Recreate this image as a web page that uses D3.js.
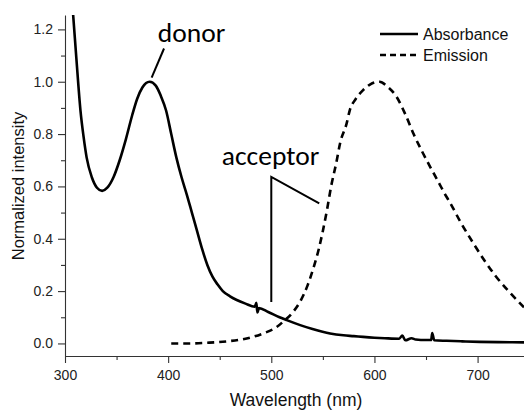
<!DOCTYPE html>
<html lang="en">
<head>
<meta charset="UTF-8">
<title>Absorbance / Emission</title>
<script src="https://d3js.org/d3.v7.min.js"></script>
<style>
  body { margin: 0; background: #fff; }
  svg { display: block; }
</style>
</head>
<body>
<script>
// absorbance spectrum (donor)
const absWl = [303, 306, 308, 311, 315, 318, 321, 326, 331, 336, 341, 347, 353, 359, 365, 370, 375, 382, 388, 393,
  398, 403, 408, 413, 418, 423, 428, 433, 438, 443, 448, 453, 460, 466, 475, 484, 485.5, 486.5, 488, 497, 508,
  515, 528, 540, 557, 570, 580, 589, 600, 610, 624, 627, 630, 636, 640, 650, 655, 656, 658, 670, 685, 702, 720, 745];
const absVal = [1.50, 1.35, 1.25, 1.09, 0.89, 0.79, 0.71, 0.635, 0.595, 0.583, 0.595, 0.635, 0.70, 0.78, 0.87, 0.935, 0.978, 1.0, 0.985, 0.945,
  0.89, 0.80, 0.71, 0.635, 0.57, 0.50, 0.43, 0.36, 0.30, 0.255, 0.225, 0.20, 0.18, 0.167, 0.152, 0.14, 0.155, 0.118, 0.135, 0.12, 0.10,
  0.089, 0.07, 0.055, 0.038, 0.031, 0.028, 0.025, 0.022, 0.02, 0.018, 0.03, 0.012, 0.02, 0.015, 0.013, 0.013, 0.04, 0.012, 0.01, 0.008, 0.006, 0.005, 0.004];

// emission spectrum (acceptor)
const emWl = [403, 420, 440, 457, 475, 492, 505, 512, 520, 528, 535, 541, 546, 550, 554, 558, 563, 567, 573, 576,
  582, 589, 596, 605, 613, 621, 630, 638, 646, 654, 663, 668, 673, 684, 696, 707, 718, 730, 745];
const emVal = [0.0, 0.0, 0.003, 0.008, 0.018, 0.038, 0.062, 0.085, 0.115, 0.16, 0.22, 0.29, 0.36, 0.43, 0.51, 0.60, 0.69, 0.77, 0.84, 0.89,
  0.935, 0.968, 0.99, 1.0, 0.98, 0.945, 0.875, 0.80, 0.735, 0.675, 0.61, 0.573, 0.54, 0.46, 0.382, 0.315, 0.255, 0.20, 0.138];

const xTicks = [300, 400, 500, 600, 700];
const xMinor = [350, 450, 550, 650];
const yTicks = [0, 0.2, 0.4, 0.6, 0.8, 1.0, 1.2];
const yMinor = [0.1, 0.3, 0.5, 0.7, 0.9, 1.1];

const seriesNames = ["Absorbance", "Emission"];

// annotations in data units
const donorLabel = { text: "donor", wl: 390, val: 1.152 };
const donorPointer = [[384, 1.016], [396, 1.127]];
const acceptorLabel = { text: "acceptor", wl: 452, val: 0.681 };
const acceptorPointer = [[500, 0.158], [500, 0.636], [546.5, 0.535]];

const W = 524, H = 410;
const m = { left: 65, right: 0, top: 15, bottom: 54 };

const svg = d3.select("body").append("svg").attr("width", W).attr("height", H);

const x = d3.scaleLinear().domain([300, 745]).range([m.left, W - m.right]);
const y = d3.scaleLinear().domain([-0.048, 1.255]).range([H - m.bottom, m.top]);

svg.append("clipPath").attr("id", "plot")
  .append("rect").attr("x", m.left).attr("y", m.top)
  .attr("width", W - m.left - m.right).attr("height", H - m.top - m.bottom);

const font = "'Liberation Sans', Arial, sans-serif";
const axisColor = "#333";

// axes
svg.append("g").attr("transform", `translate(0,${H - m.bottom})`)
  .call(d3.axisBottom(x).tickValues(xTicks).tickSize(7).tickPadding(7).tickSizeOuter(0));
svg.append("g").attr("transform", `translate(0,${H - m.bottom})`)
  .call(d3.axisBottom(x).tickValues(xMinor).tickSize(4).tickFormat("").tickSizeOuter(0))
  .select(".domain").remove();
svg.append("g").attr("transform", `translate(${m.left},0)`)
  .call(d3.axisLeft(y).tickValues(yTicks).tickSize(7).tickPadding(5).tickSizeOuter(0).tickFormat(d3.format(".1f")));
svg.append("g").attr("transform", `translate(${m.left},0)`)
  .call(d3.axisLeft(y).tickValues(yMinor).tickSize(4).tickFormat("").tickSizeOuter(0))
  .select(".domain").remove();

svg.selectAll(".domain, .tick line").attr("stroke", axisColor).attr("stroke-width", 1.1);
svg.selectAll(".tick text").attr("fill", "#222").style("font-family", font).style("font-size", "14px");

// axis titles
svg.append("text")
  .attr("x", 296).attr("y", 406)
  .attr("text-anchor", "middle")
  .style("font-family", font).style("font-size", "17.5px").attr("fill", "#111")
  .text("Wavelength (nm)");
svg.append("text")
  .attr("transform", "translate(24,186) rotate(-90)")
  .attr("text-anchor", "middle")
  .style("font-family", font).style("font-size", "16.5px").attr("fill", "#111")
  .text("Normalized intensity");

// curves
const line = d3.line().x(d => x(d[0])).y(d => y(d[1])).curve(d3.curveMonotoneX);
const absData = absWl.map((w, i) => [w, absVal[i]]);
const emData = emWl.map((w, i) => [w, emVal[i]]);

const plot = svg.append("g").attr("clip-path", "url(#plot)");
plot.append("path").datum(emData)
  .attr("d", line).attr("fill", "none").attr("stroke", "#000")
  .attr("stroke-width", 2.6).attr("stroke-dasharray", "7,5");
plot.append("path").datum(absData)
  .attr("d", line).attr("fill", "none").attr("stroke", "#000")
  .attr("stroke-width", 2.6).attr("stroke-linejoin", "round");

// annotations
const pointer = d3.line().x(d => x(d[0])).y(d => y(d[1]));
svg.append("path").attr("d", pointer(donorPointer))
  .attr("fill", "none").attr("stroke", "#000").attr("stroke-width", 2);
svg.append("path").attr("d", pointer(acceptorPointer))
  .attr("fill", "none").attr("stroke", "#000").attr("stroke-width", 2);

const labelFont = "Carlito, Calibri, 'Open Sans', sans-serif";
[donorLabel, acceptorLabel].forEach(l => {
  svg.append("text")
    .attr("x", x(l.wl)).attr("y", y(l.val))
    .style("font-family", labelFont).style("font-size", "27.5px").attr("fill", "#000")
    .text(l.text);
});

// legend
const legend = svg.append("g").attr("transform", "translate(380,34)");
seriesNames.forEach((name, i) => {
  const g = legend.append("g").attr("transform", `translate(0,${i * 21})`);
  g.append("line").attr("x1", 0).attr("x2", 38).attr("y1", 0).attr("y2", 0)
    .attr("stroke", "#000").attr("stroke-width", 2.4)
    .attr("stroke-dasharray", i === 1 ? "6,4" : null);
  g.append("text").attr("x", 43).attr("y", 6)
    .style("font-family", font).style("font-size", "16px").attr("fill", "#111")
    .text(name);
});
</script>
</body>
</html>
